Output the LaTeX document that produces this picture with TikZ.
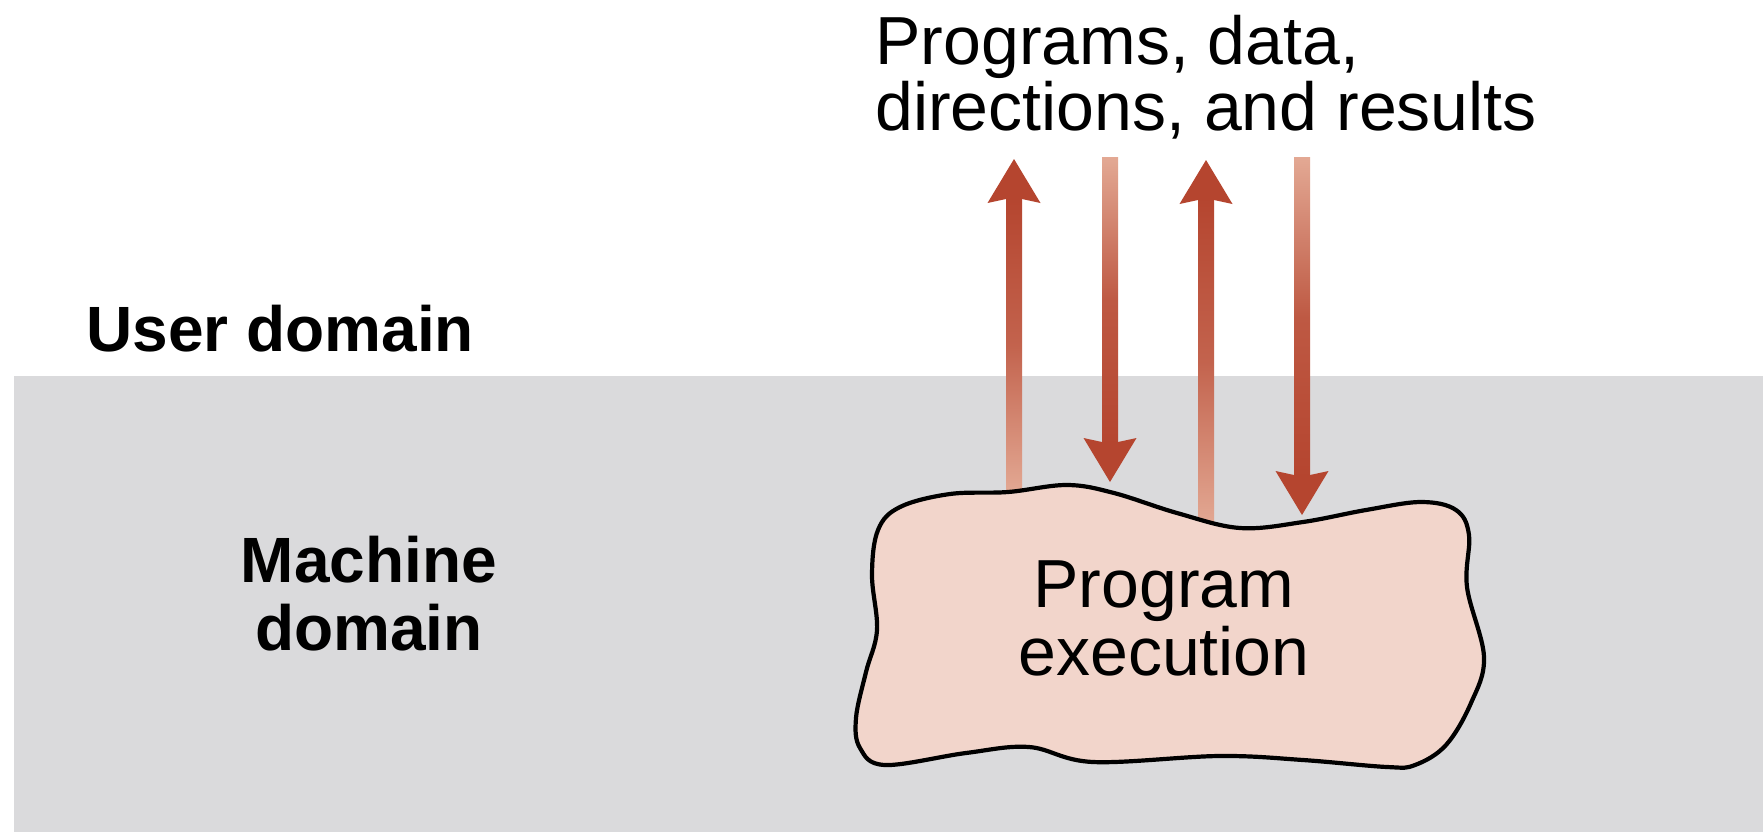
\documentclass[tikz,border=0pt]{standalone}
\usepackage{fontspec}
\setmainfont{Liberation Sans}
\usetikzlibrary{calc}
\definecolor{bggray}{HTML}{DADADC}
\definecolor{blobfill}{HTML}{F2D5CB}
\definecolor{arrdark}{HTML}{B5452F}
\definecolor{arrlight}{HTML}{E3A994}
\tikzset{
  plain/.style={font=\fontsize{34}{33}\selectfont, inner sep=0pt},
  boldlbl/.style={font=\fontsize{32}{34}\selectfont\bfseries, inner sep=0pt},
  upshade/.style={top color=arrdark, bottom color=arrlight, middle color=arrdark!70!arrlight},
  downshade/.style={top color=arrlight, bottom color=arrdark, middle color=arrdark!80!arrlight},
  headfill/.style={fill=arrdark},
  blobline/.style={draw=black, line width=2.1pt, fill=blobfill, line join=round}
}
\begin{document}
\begin{tikzpicture}[x=0.5pt, y=-0.5pt]
\useasboundingbox (0,0) rectangle (1763,832);
\fill[white] (0,0) rectangle (1763,832);
\fill[bggray] (14,376) rectangle (1763,832);

% labels
\node[plain, align=left, anchor=base west] (title) at (875,130) {Programs, data,\\directions, and results};
\node[boldlbl, anchor=base west] (user) at (86,351) {User domain};
\node[boldlbl, align=center, anchor=base] (machine) at (369,650) {Machine\\domain};

% arrow end points
\coordinate (u1) at (1014,159);
\coordinate (b1) at (1014,494);
\coordinate (u2) at (1110,157);
\coordinate (b2) at (1110,482);
\coordinate (u3) at (1206,160);
\coordinate (b3) at (1206,526);
\coordinate (u4) at (1302,157);
\coordinate (b4) at (1302,515);

% up arrows
\shade[upshade] ($(b1)+(-8,0)$) rectangle ($(u1)+(8,38)$);
\fill[headfill] (u1) -- ++(26.5,44) -- ++(-18.5,-4) -- ++(-16,0) -- ++(-18.5,4) -- cycle;
\shade[upshade] ($(b3)+(-8,0)$) rectangle ($(u3)+(8,38)$);
\fill[headfill] (u3) -- ++(26.5,44) -- ++(-18.5,-4) -- ++(-16,0) -- ++(-18.5,4) -- cycle;
% down arrows
\shade[downshade] ($(u2)+(-8,0)$) rectangle ($(b2)+(8,-38)$);
\fill[headfill] (b2) -- ++(26.5,-44) -- ++(-18.5,4) -- ++(-16,0) -- ++(-18.5,-4) -- cycle;
\shade[downshade] ($(u4)+(-8,0)$) rectangle ($(b4)+(8,-38)$);
\fill[headfill] (b4) -- ++(26.5,-44) -- ++(-18.5,4) -- ++(-16,0) -- ++(-18.5,-4) -- cycle;

% blob
\draw[blobline] plot[smooth cycle, tension=0.6] coordinates {
 (900,507) (950,494) (1008,492) (1067,485) (1114,493) (1177,513) (1240,528)
 (1303,522) (1366,510) (1421,502) (1456,510) (1469,535) (1467,587) (1484,657)
 (1471,703) (1446,745) (1415,765) (1387,767) (1303,760) (1219,756) (1093,762)
 (1029,747) (966,753) (885,765) (860,748) (856,718) (866,672) (877,630)
 (872,575) (878,530)};
\node[plain, align=center, font=\fontsize{34}{34}\selectfont, anchor=base] (pe) at (1164,675) {Program\\execution};
\end{tikzpicture}
\end{document}
